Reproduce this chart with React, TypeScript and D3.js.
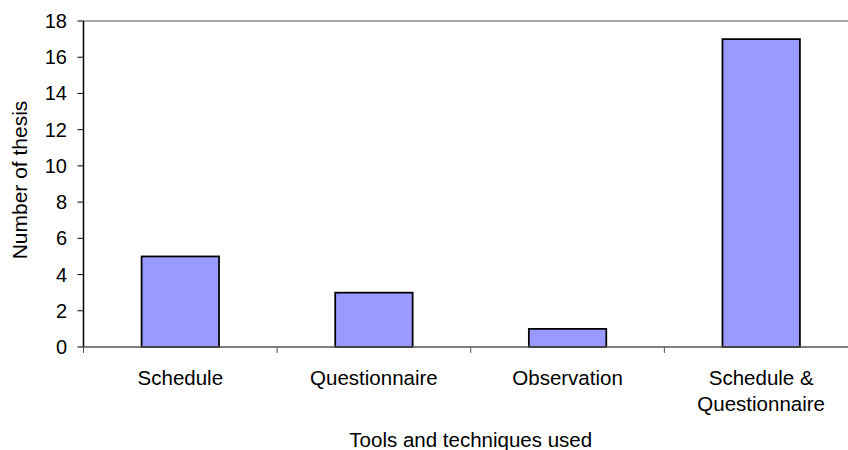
import React from "react";
import * as d3 from "d3";

const categories: string[][] = [["Schedule"], ["Questionnaire"], ["Observation"], ["Schedule &", "Questionnaire"]];
const values: number[] = [5, 3, 1, 17];
const yTicks: number[] = [0, 2, 4, 6, 8, 10, 12, 14, 16, 18];
const yTitle = "Number of thesis";
const xTitle = "Tools and techniques used";

export default function App() {
  const W = 848, H = 450;
  const left = 83.5, right = 858, top = 21, bottom = 347;
  const x = d3.scaleBand<number>().domain(d3.range(values.length)).range([left, right]).paddingInner(0).paddingOuter(0);
  const y = d3.scaleLinear().domain([0, 18]).range([bottom, top]);
  const bw = x.bandwidth() * 0.4;
  const font = "'Liberation Sans', Arial, sans-serif";
  const fs = 20.5;
  return (
    <div style={{ position: "absolute", left: 0, top: 0 }}>
      <svg width={W} height={H} style={{ display: "block", background: "#fff" }} fontFamily={font}>
        <line x1={left} x2={W} y1={top} y2={top} stroke="#888" strokeWidth={1.5} />
        {values.map((v, i) => (
          <rect key={i} x={x(i)! + (x.bandwidth() - bw) / 2} y={y(v)} width={bw} height={y(0) - y(v)}
            fill="#9999FF" stroke="#000" strokeWidth={1.75} />
        ))}
        <line x1={left} x2={left} y1={top} y2={bottom} stroke="#000" strokeWidth={1.5} />
        <line x1={left} x2={W} y1={bottom} y2={bottom} stroke="#555" strokeWidth={1.5} />
        {yTicks.map((t) => (
          <g key={t}>
            <line x1={left - 6} x2={left} y1={y(t)} y2={y(t)} stroke="#000" strokeWidth={1} />
            <text x={67} y={y(t)} textAnchor="end" dominantBaseline="central" fontSize={20} fill="#000">{t}</text>
          </g>
        ))}
        {d3.range(values.length + 1).map((i) => {
          const xx = left + i * x.bandwidth();
          return <line key={i} x1={xx} x2={xx} y1={bottom} y2={bottom + 6} stroke="#555" strokeWidth={1} />;
        })}
        {categories.map((lines, i) => (
          <text key={i} x={x(i)! + x.bandwidth() / 2} y={385} textAnchor="middle" fontSize={fs} fill="#000">
            {lines.map((l, j) => (
              <tspan key={j} x={x(i)! + x.bandwidth() / 2} dy={j === 0 ? 0 : 26}>{l}</tspan>
            ))}
          </text>
        ))}
        <text x={(left + right) / 2} y={447} textAnchor="middle" fontSize={fs} fill="#000">{xTitle}</text>
        <text transform={`translate(27,180) rotate(-90)`} textAnchor="middle" fontSize={21} fill="#000">{yTitle}</text>
      </svg>
    </div>
  );
}
